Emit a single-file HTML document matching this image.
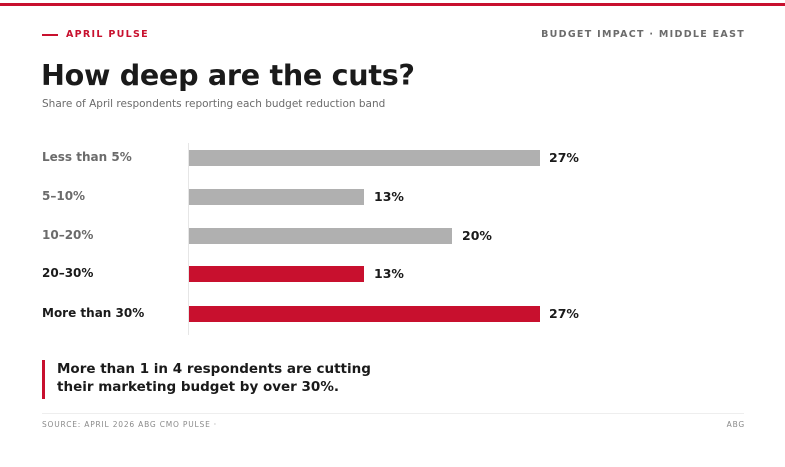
<!DOCTYPE html>
<html><head><meta charset="utf-8"><style>
*{margin:0;padding:0;box-sizing:border-box}
body{width:785px;height:467px;background:#fff;font-family:"DejaVu Sans","Liberation Sans",sans-serif;position:relative;overflow:hidden;color:#1a1a1a}
.a{position:absolute;white-space:nowrap}
.bar{position:absolute;left:189px;height:16px}
.lab{position:absolute;left:42px;font-size:12px;font-weight:bold;color:#6b6b6b}
.val{position:absolute;font-size:12.5px;font-weight:bold;color:#1a1a1a}
</style></head><body>
<div class="a" style="left:0;top:3px;width:785px;height:3px;background:#c8102e"></div>
<div class="a" style="left:42px;top:34px;width:16px;height:2px;background:#c8102e"></div>
<div class="a" style="left:66px;top:29px;font-size:9.5px;font-weight:bold;letter-spacing:1.3px;color:#c8102e">APRIL PULSE</div>
<div class="a" style="right:40px;top:29px;font-size:9.5px;font-weight:bold;letter-spacing:1.3px;color:#6b6b6b">BUDGET IMPACT · MIDDLE EAST</div>
<div class="a" style="left:41px;top:58px;font-size:28.6px;font-weight:bold;color:#1a1a1a;letter-spacing:-0.3px">How deep are the cuts?</div>
<div class="a" style="left:42px;top:98px;font-size:10.5px;color:#6b6b6b">Share of April respondents reporting each budget reduction band</div>
<div class="a" style="left:188px;top:143px;width:1px;height:192px;background:#e6e6e6"></div>

<div class="lab" style="top:150px">Less than 5%</div>
<div class="bar" style="top:150px;width:351px;background:#b0b0b0"></div>
<div class="val" style="left:549px;top:150px">27%</div>

<div class="lab" style="top:189px">5–10%</div>
<div class="bar" style="top:189px;width:175px;background:#b0b0b0"></div>
<div class="val" style="left:374px;top:189px">13%</div>

<div class="lab" style="top:228px">10–20%</div>
<div class="bar" style="top:228px;width:263px;background:#b0b0b0"></div>
<div class="val" style="left:462px;top:228px">20%</div>

<div class="lab" style="top:266px;color:#1a1a1a">20–30%</div>
<div class="bar" style="top:266px;width:175px;background:#c8102e"></div>
<div class="val" style="left:374px;top:266px">13%</div>

<div class="lab" style="top:306px;color:#1a1a1a">More than 30%</div>
<div class="bar" style="top:306px;width:351px;background:#c8102e"></div>
<div class="val" style="left:549px;top:306px">27%</div>

<div class="a" style="left:42px;top:360px;width:3px;height:39px;background:#c8102e"></div>
<div class="a" style="left:57px;top:360px;font-size:13.5px;font-weight:bold;line-height:18px">More than 1 in 4 respondents are cutting<br>their marketing budget by over 30%.</div>
<div class="a" style="left:42px;top:413px;width:702px;height:1px;background:#eeeeee"></div>
<div class="a" style="left:42px;top:420px;font-size:7.5px;letter-spacing:0.8px;color:#8a8a8a">SOURCE: APRIL 2026 ABG CMO PULSE ·</div>
<div class="a" style="right:40px;top:420px;font-size:7.5px;letter-spacing:0.8px;color:#8a8a8a">ABG</div>
</body></html>
